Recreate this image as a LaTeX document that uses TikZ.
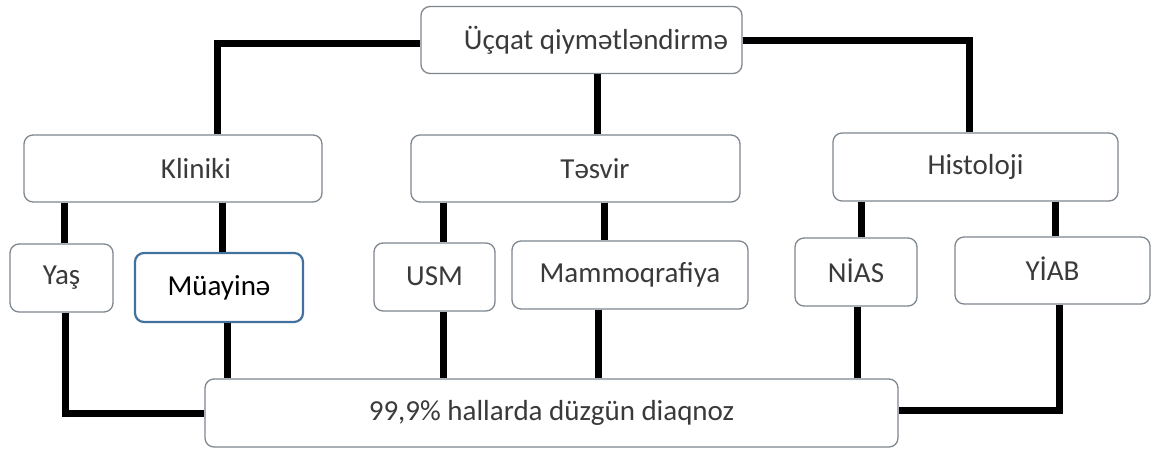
\documentclass[tikz,border=0pt]{standalone}
\usepackage{fontspec}
\setmainfont{Carlito}
\definecolor{boxgray}{HTML}{7F878F}
\definecolor{boxblue}{HTML}{41719C}
\definecolor{txtgray}{HTML}{3A3A3A}
\begin{document}
\begin{tikzpicture}[x=1pt,y=-1pt,
  box/.style={draw=boxgray, line width=1.3pt, rounded corners=9pt, fill=white, inner sep=0pt, text=txtgray, font=\fontsize{29}{33}\selectfont},
  bluebox/.style={box, draw=boxblue, line width=2.2pt, text=black},
  conn/.style={line width=7pt, black}]
\useasboundingbox[fill=white] (0,0) rectangle (1155,450);
% boxes
\node[box, minimum width=321pt, minimum height=67pt] (top) at (581.5,40) {\hspace*{29pt}Üçqat qiymətləndirmə};
\node[box, minimum width=298pt, minimum height=67pt] (kl) at (173,168.5) {\hspace*{46pt}Kliniki};
\node[box, minimum width=329pt, minimum height=67pt] (tas) at (575.5,168.5) {\hspace*{39pt}Təsvir};
\node[box, minimum width=285pt, minimum height=68pt] (hi) at (975.5,167) {Histoloji};
\node[box, minimum width=103pt, minimum height=68pt] (yas) at (61.5,278) {\raisebox{4pt}{Yaş}};
\node[bluebox, minimum width=168pt, minimum height=69pt] (mu) at (219,287.5) {Müayinə};
\node[box, minimum width=121pt, minimum height=68pt] (usm) at (434.5,277) {\raisebox{2pt}{USM}};
\node[box, minimum width=236pt, minimum height=68pt] (mam) at (630,275) {\raisebox{2pt}{Mammoqrafiya}};
\node[box, minimum width=122pt, minimum height=68pt] (nias) at (856,272) {\raisebox{2pt}{NİAS}};
\node[box, minimum width=195pt, minimum height=67pt] (yiab) at (1052.5,270.5) {\raisebox{3pt}{YİAB}};
\node[box, minimum width=693pt, minimum height=68pt] (bot) at (551.5,413) {99,9\% hallarda düzgün diaqnoz};
% x positions of connectors
\coordinate (xkl) at (217,0);
\coordinate (xtas) at (597,0);
\coordinate (xhi) at (969,0);
\coordinate (xyasT) at (64,0);
\coordinate (xmuT) at (222,0);
\coordinate (xusm) at (443,0);
\coordinate (xmamT) at (604,0);
\coordinate (xniasT) at (861,0);
\coordinate (xyiabT) at (1055,0);
\coordinate (xyasB) at (65,0);
\coordinate (xmuB) at (227,0);
\coordinate (xmamB) at (598,0);
\coordinate (xniasB) at (857,0);
\coordinate (xyiabB) at (1059,0);
% connectors
\draw[conn] ([yshift=-3pt]top.west) -| (xkl |- kl.north);
\draw[conn] (xtas |- top.south) -- (xtas |- tas.north);
\draw[conn] (top.east) -| (xhi |- hi.north);
\draw[conn] (xyasT |- kl.south) -- (xyasT |- yas.north);
\draw[conn] (xmuT |- kl.south) -- (xmuT |- mu.north);
\draw[conn] (xusm |- tas.south) -- (xusm |- usm.north);
\draw[conn] (xmamT |- tas.south) -- (xmamT |- mam.north);
\draw[conn] (xniasT |- hi.south) -- (xniasT |- nias.north);
\draw[conn] (xyiabT |- hi.south) -- (xyiabT |- yiab.north);
\draw[conn] (xyasB |- yas.south) |- (bot.west);
\draw[conn] (xmuB |- mu.south) -- (xmuB |- bot.north);
\draw[conn] (xusm |- usm.south) -- (xusm |- bot.north);
\draw[conn] (xmamB |- mam.south) -- (xmamB |- bot.north);
\draw[conn] (xniasB |- nias.south) -- (xniasB |- bot.north);
\draw[conn] (xyiabB |- yiab.south) |- ([yshift=3pt]bot.east);
\end{tikzpicture}
\end{document}
